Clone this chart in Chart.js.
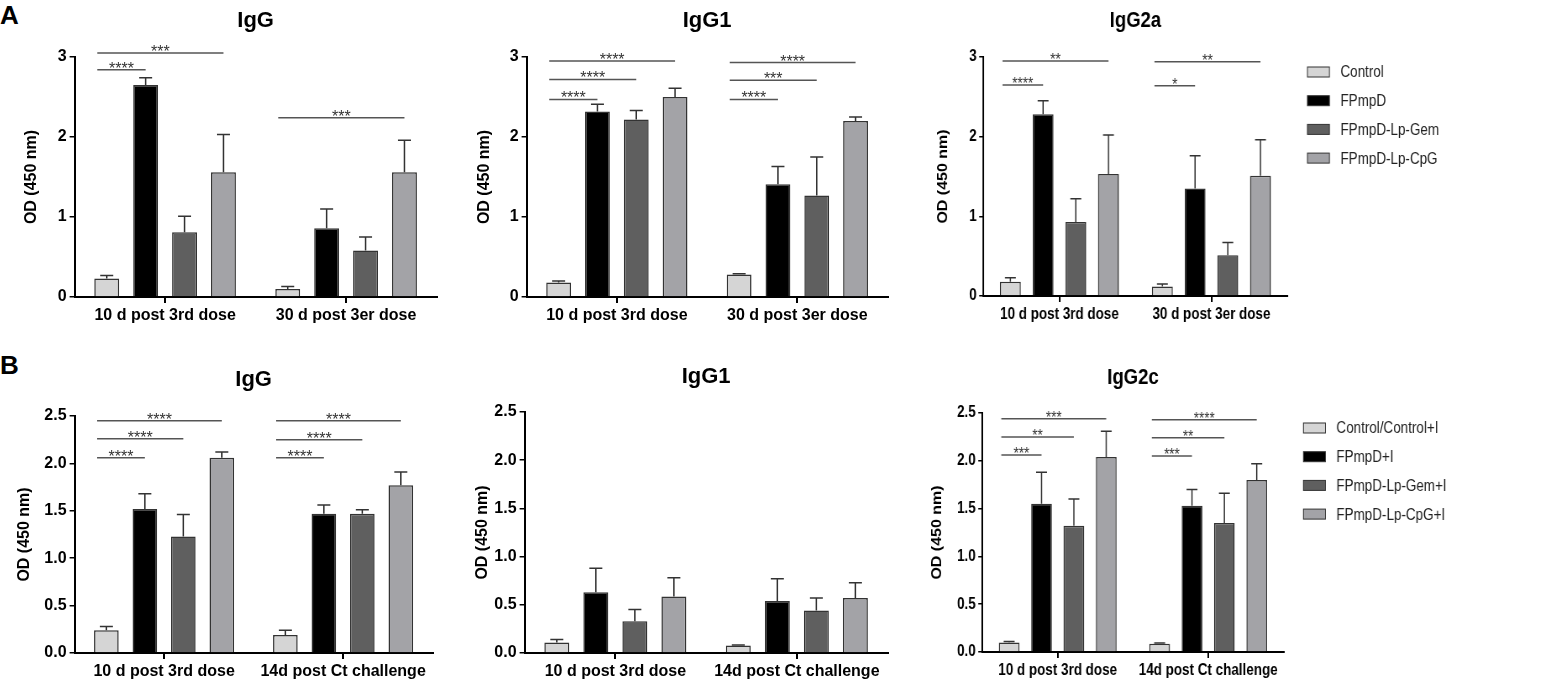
<!DOCTYPE html>
<html>
<head>
<meta charset="utf-8">
<script src="https://cdn.jsdelivr.net/npm/chart.js@4.4.1/dist/chart.umd.min.js"></script>
<style>
  body { margin: 0; background: #fff; }
  #wrap { position: relative; width: 1550px; height: 685px; overflow: hidden; background: #fff; }
  canvas { position: absolute; transform-origin: 0 0; }
  .letter { position: absolute; font: bold 26px "Liberation Sans", Arial, sans-serif; color: #000; }
</style>
</head>
<body>
<div id="wrap">
  <div class="letter" style="left:0px; top:0px;">A</div>
  <div class="letter" style="left:0px; top:350px;">B</div>
  <canvas id="a1"></canvas>
  <canvas id="a2"></canvas>
  <canvas id="a3"></canvas>
  <canvas id="b1"></canvas>
  <canvas id="b2"></canvas>
  <canvas id="b3"></canvas>
</div>
<script>
// categories and series
const groupsA = ["10 d post 3rd dose", "30 d post 3er dose"];
const groupsB = ["10 d post 3rd dose", "14d post Ct challenge"];
const seriesA = ["Control", "FPmpD", "FPmpD-Lp-Gem", "FPmpD-Lp-CpG"];
const seriesB = ["Control/Control+I", "FPmpD+I", "FPmpD-Lp-Gem+I", "FPmpD-Lp-CpG+I"];
const yTicksA = [0, 1, 2, 3];
const yTicksB = [0, 0.5, 1.0, 1.5, 2.0, 2.5];

// A - IgG (mean per series, one value per group) and SEM
const aIgG = [[0.23, 0.10], [2.65, 0.86], [0.81, 0.58], [1.56, 1.56]];
const aIgGErr = [[0.04, 0.03], [0.09, 0.24], [0.20, 0.17], [0.47, 0.40]];
// A - IgG1
const aIgG1 = [[0.18, 0.28], [2.32, 1.41], [2.22, 1.27], [2.50, 2.20]];
const aIgG1Err = [[0.02, 0.01], [0.09, 0.22], [0.11, 0.48], [0.11, 0.05]];
// A - IgG2a
const aIgG2a = [[0.18, 0.12], [2.28, 1.35], [0.93, 0.51], [1.53, 1.51]];
const aIgG2aErr = [[0.05, 0.03], [0.17, 0.41], [0.29, 0.16], [0.49, 0.45]];
// B - IgG
const bIgG = [[0.24, 0.19], [1.52, 1.47], [1.23, 1.47], [2.06, 1.77]];
const bIgGErr = [[0.04, 0.05], [0.16, 0.09], [0.23, 0.04], [0.06, 0.14]];
// B - IgG1
const bIgG1 = [[0.11, 0.077], [0.63, 0.54], [0.33, 0.44], [0.585, 0.57]];
const bIgG1Err = [[0.03, 0.005], [0.25, 0.23], [0.12, 0.13], [0.195, 0.16]];
// B - IgG2c
const bIgG2c = [[0.10, 0.085], [1.55, 1.53], [1.32, 1.35], [2.04, 1.80]];
const bIgG2cErr = [[0.01, 0.01], [0.33, 0.17], [0.28, 0.31], [0.27, 0.17]];

// significance: [group, compared series (vs control), y value, stars]
const aIgGSig = [[0, 1, 2.84, "****"], [0, 3, 3.05, "***"], [1, 3, 2.24, "***"]];
const aIgG1Sig = [[0, 1, 2.47, "****"], [0, 2, 2.72, "****"], [0, 3, 2.95, "****"],
                  [1, 1, 2.47, "****"], [1, 2, 2.71, "***"], [1, 3, 2.93, "****"]];
const aIgG2aSig = [[0, 1, 2.65, "****"], [0, 3, 2.95, "**"], [1, 1, 2.64, "*"], [1, 3, 2.94, "**"]];
const bIgGSig = [[0, 1, 2.06, "****"], [0, 2, 2.26, "****"], [0, 3, 2.45, "****"],
                 [1, 1, 2.06, "****"], [1, 2, 2.25, "****"], [1, 3, 2.45, "****"]];
const bIgG1Sig = [];
const bIgG2cSig = [[0, 1, 2.06, "***"], [0, 2, 2.25, "**"], [0, 3, 2.44, "***"],
                   [1, 1, 2.05, "***"], [1, 2, 2.24, "**"], [1, 3, 2.43, "****"]];

const barColors = ["#d5d5d5", "#000000", "#5f5f5f", "#a3a3a7"];
const FONT = '"Liberation Sans", Arial, sans-serif';
Chart.defaults.font.family = FONT;
Chart.defaults.color = "#000";

// error bars (upper only, capped)
const errorBars = {
  id: "errorBars",
  afterDatasetsDraw(chart) {
    const ctx = chart.ctx, y = chart.scales.y;
    chart.data.datasets.forEach((ds, i) => {
      chart.getDatasetMeta(i).data.forEach((bar, j) => {
        const top = y.getPixelForValue(ds.data[j] + ds.errors[j]);
        ctx.save();
        ctx.strokeStyle = "#333";
        ctx.lineWidth = 1.5;
        ctx.beginPath();
        ctx.moveTo(bar.x, bar.y);
        ctx.lineTo(bar.x, top);
        ctx.moveTo(bar.x - 6.5, top);
        ctx.lineTo(bar.x + 6.5, top);
        ctx.stroke();
        ctx.restore();
      });
    });
  }
};

function sigPlugin(items) {
  return {
    id: "sigBars",
    afterDraw(chart) {
      const ctx = chart.ctx;
      items.forEach(([g, s, v, txt]) => {
        const a = chart.getDatasetMeta(0).data[g];
        const b = chart.getDatasetMeta(s).data[g];
        const x0 = a.x - a.width / 2 + 3, x1 = b.x;
        const yy = chart.scales.y.getPixelForValue(v);
        ctx.save();
        ctx.strokeStyle = "#555";
        ctx.lineWidth = 1.5;
        ctx.beginPath();
        ctx.moveTo(x0, yy);
        ctx.lineTo(x1, yy);
        ctx.stroke();
        ctx.fillStyle = "#333";
        ctx.font = "16px " + FONT;
        ctx.textAlign = "center";
        ctx.textBaseline = "alphabetic";
        ctx.fillText(txt, (x0 + x1) / 2, yy + 4);
        ctx.restore();
      });
    }
  };
}

// legend to the right of the plot (offsets in page px, divided by the panel's x squeeze)
function legendPlugin(sx) {
  return {
    id: "sideLegend",
    afterDraw(chart) {
      const ctx = chart.ctx, area = chart.chartArea;
      chart.data.datasets.forEach((ds, i) => {
        const x = area.right + 20 / sx, y = area.top + 15 + i * 28.7;
        const bw = 22 / sx;
        ctx.save();
        ctx.fillStyle = ds.backgroundColor;
        ctx.fillRect(x, y - 5, bw, 10);
        ctx.strokeStyle = "#333";
        ctx.lineWidth = 1;
        ctx.strokeRect(x, y - 5, bw, 10);
        ctx.fillStyle = "#222";
        ctx.font = "16px " + FONT;
        ctx.textAlign = "left";
        ctx.textBaseline = "middle";
        ctx.fillText(ds.label, x + 33 / sx, y + 1);
        ctx.restore();
      });
    }
  };
}

// panel placement (page px): y-title centre x, canvas top/right/height, plot area, title centre y, x squeeze
const panels = [
  { id: "a1", title: "IgG",   groups: groupsA, series: seriesA, vals: aIgG,   errs: aIgGErr,   sig: aIgGSig,   ticks: yTicksA, dec: 0,
    yt: 32, top: 0, right: 520, h: 335, area: [75, 57, 437, 297], tc: 21, sx: 1 },
  { id: "a2", title: "IgG1",  groups: groupsA, series: seriesA, vals: aIgG1,  errs: aIgG1Err,  sig: aIgG1Sig,  ticks: yTicksA, dec: 0,
    yt: 485, top: 0, right: 930, h: 335, area: [527, 57, 888, 297], tc: 21, sx: 1 },
  { id: "a3", title: "IgG2a", groups: groupsA, series: seriesA, vals: aIgG2a, errs: aIgG2aErr, sig: aIgG2aSig, ticks: yTicksA, dec: 0, legend: true,
    yt: 943, top: 0, right: 1550, h: 335, area: [983, 57, 1287, 296], tc: 21, sx: 0.84 },
  { id: "b1", title: "IgG",   groups: groupsB, series: seriesB, vals: bIgG,   errs: bIgGErr,   sig: bIgGSig,   ticks: yTicksB, dec: 1,
    yt: 25, top: 345, right: 520, h: 340, area: [75, 416, 433, 653], tc: 380, sx: 1 },
  { id: "b2", title: "IgG1",  groups: groupsB, series: seriesB, vals: bIgG1,  errs: bIgG1Err,  sig: bIgG1Sig,  ticks: yTicksB, dec: 1,
    yt: 483, top: 345, right: 930, h: 340, area: [525, 412, 888, 653], tc: 377, sx: 1 },
  { id: "b3", title: "IgG2c", groups: groupsB, series: seriesB, vals: bIgG2c, errs: bIgG2cErr, sig: bIgG2cSig, ticks: yTicksB, dec: 1, legend: true,
    yt: 937, top: 345, right: 1550, h: 340, area: [982, 413, 1283, 652], tc: 378, sx: 0.84 }
];

const X_AXIS_H = 32;
const TITLE_LH = 22 * 1.2;
const YTITLE_OFF = 4 + 16 * 1.2 / 2;

panels.forEach(p => {
  const sx = p.sx;
  const cx = p.yt - YTITLE_OFF * sx;
  const cw = Math.round((p.right - cx) / sx);
  const [l, t, r, b] = p.area;
  const lU = (l - cx) / sx, rU = (r - cx) / sx;

  const cv = document.getElementById(p.id);
  cv.width = cw; cv.height = p.h;
  cv.style.left = cx + "px"; cv.style.top = p.top + "px";
  if (sx !== 1) cv.style.transform = "scaleX(" + sx + ")";

  const padTop = p.tc - TITLE_LH / 2 - p.top;
  const padBottom = t - p.top - padTop - TITLE_LH;

  const plugins = [errorBars, sigPlugin(p.sig)];
  if (p.legend) plugins.push(legendPlugin(sx));

  new Chart(cv, {
    type: "bar",
    data: {
      labels: p.groups,
      datasets: p.series.map((name, i) => ({
        label: name,
        data: p.vals[i],
        errors: p.errs[i],
        backgroundColor: barColors[i],
        borderColor: "#333",
        borderWidth: 1.5,
        categoryPercentage: 0.86,
        barPercentage: 0.64
      }))
    },
    options: {
      responsive: false,
      animation: false,
      devicePixelRatio: 1,
      layout: { padding: { left: 0, top: 0, right: cw - rU, bottom: p.top + p.h - b - X_AXIS_H } },
      plugins: {
        legend: { display: false },
        tooltip: { enabled: false },
        title: {
          display: true,
          text: p.title,
          fullSize: false,
          color: "#000",
          font: { size: 22, weight: "bold" },
          padding: { top: padTop, bottom: padBottom }
        }
      },
      scales: {
        x: {
          offset: true,
          grid: { display: true, drawOnChartArea: false, offset: false, tickLength: 6, color: "#000", lineWidth: 2 },
          border: { display: true, color: "#000", width: 2 },
          ticks: { color: "#000", font: { size: 16, weight: "bold" }, padding: 3, maxRotation: 0, autoSkip: false },
          afterFit: s => { s.height = X_AXIS_H; }
        },
        y: {
          min: 0,
          max: p.ticks[p.ticks.length - 1],
          afterBuildTicks: s => { s.ticks = p.ticks.map(v => ({ value: v })); },
          grid: { display: true, drawOnChartArea: false, tickLength: 5, color: "#000", lineWidth: 1.5 },
          border: { display: true, color: "#000", width: 2 },
          ticks: { color: "#000", font: { size: 16, weight: "bold" }, padding: 3, callback: v => Number(v).toFixed(p.dec) },
          title: { display: true, text: "OD (450 nm)", color: "#000", font: { size: 16, weight: "bold" }, padding: { top: 4, bottom: 0 } },
          afterFit: s => { s.width = lU; }
        }
      }
    },
    plugins: plugins
  });
});
</script>
</body>
</html>
